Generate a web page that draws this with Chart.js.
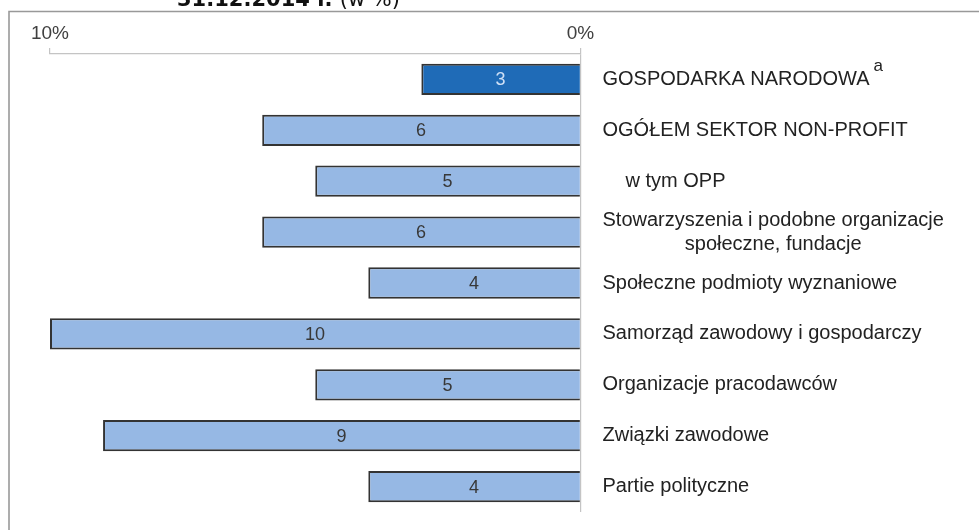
<!DOCTYPE html>
<html>
<head>
<meta charset="utf-8">
<script src="https://cdn.jsdelivr.net/npm/chart.js@4.4.1/dist/chart.umd.min.js"></script>
<style>
  html, body { margin: 0; padding: 0; background: #ffffff; }
  #c { display: block; }
</style>
</head>
<body>
<canvas id="c" width="979" height="530"></canvas>
<script>
// ---- DATA ----
const titleBold = '31.12.2014 r.';
const titleRest = '(w %)';
const categories = [
  'GOSPODARKA NARODOWA',
  'OGÓŁEM SEKTOR NON-PROFIT',
  'w tym OPP',
  ['Stowarzyszenia i podobne organizacje', 'społeczne, fundacje'],
  'Społeczne podmioty wyznaniowe',
  'Samorząd zawodowy i gospodarczy',
  'Organizacje pracodawców',
  'Związki zawodowe',
  'Partie polityczne'
];
const values = [3, 6, 5, 6, 4, 10, 5, 9, 4];
const footnotes = ['a', '', '', '', '', '', '', '', ''];
const tickValues = [10, 0];
const tickSuffix = '%';

// ---- STYLE ----
const DARK = '#1f6bb7';
const LIGHT = '#96b8e4';
const BORDER = '#333333';
const AXIS = '#c4c4c4';
const FONT = '"Liberation Sans", Arial, sans-serif';

const framePlugin = {
  id: 'frame',
  beforeDraw(chart) {
    const ctx = chart.ctx;
    ctx.save();
    ctx.fillStyle = '#ffffff';
    ctx.fillRect(0, 0, chart.width, chart.height);
    ctx.strokeStyle = '#999999';
    ctx.lineWidth = 1.6;
    ctx.beginPath();
    ctx.moveTo(9, chart.height);
    ctx.lineTo(9, 11.5);
    ctx.lineTo(chart.width, 11.5);
    ctx.stroke();
    // title (partly cut at top)
    ctx.fillStyle = '#111111';
    ctx.textBaseline = 'alphabetic';
    ctx.textAlign = 'left';
    ctx.font = 'bold 21px "DejaVu Sans", sans-serif';
    const x0 = 177;
    ctx.fillText(titleBold, x0, 6);
    const w = ctx.measureText(titleBold + ' ').width;
    ctx.font = '21px "DejaVu Sans", sans-serif';
    ctx.fillText(titleRest, x0 + w, 6);
    ctx.restore();
  }
};

const labelsPlugin = {
  id: 'catLabels',
  afterDatasetsDraw(chart, args, opts) {
    const ctx = chart.ctx;
    const meta = chart.getDatasetMeta(0);
    const yScale = chart.scales.y;
    const xStart = chart.chartArea.right + 22;
    ctx.save();
    // value labels inside bars
    ctx.font = '18px ' + FONT;
    ctx.textAlign = 'center';
    ctx.textBaseline = 'middle';
    meta.data.forEach((bar, i) => {
      const cx = (bar.x + bar.base) / 2;
      ctx.fillStyle = i === 0 ? '#cfe0f6' : '#383838';
      ctx.fillText(String(values[i]), cx, bar.y + 1);
    });
    // category labels on the right
    ctx.textAlign = 'left';
    ctx.fillStyle = '#222222';
    categories.forEach((lab, i) => {
      const cy = yScale.getPixelForValue(i);
      const lines = Array.isArray(lab) ? lab : [lab];
      ctx.font = '20px ' + FONT;
      const widths = lines.map(l => ctx.measureText(l).width);
      const maxW = Math.max(...widths);
      const lh = 24;
      const indent = (opts.indent && opts.indent[i]) || 0;
      lines.forEach((l, k) => {
        const y = cy + (k - (lines.length - 1) / 2) * lh;
        const x = xStart + indent + (maxW - widths[k]) / 2;
        ctx.fillText(l, x, y);
      });
      if (footnotes[i]) {
        const endX = xStart + indent + maxW;
        ctx.font = '17px ' + FONT;
        ctx.fillText(footnotes[i], endX + 4, cy - 13);
      }
    });
    ctx.restore();
  }
};

new Chart(document.getElementById('c'), {
  type: 'bar',
  data: {
    labels: categories,
    datasets: [{
      data: values,
      backgroundColor: ctx => ctx.dataIndex === 0 ? DARK : LIGHT,
      borderColor: BORDER,
      borderWidth: 2,
      barPercentage: 0.615,
      categoryPercentage: 1.0
    }]
  },
  options: {
    indexAxis: 'y',
    responsive: false,
    animation: false,
    devicePixelRatio: 1,
    layout: { padding: { left: 50, right: 398.5, top: 0, bottom: 18 } },
    plugins: {
      legend: { display: false },
      tooltip: { enabled: false },
      title: { display: false },
      catLabels: { indent: { 2: 23 } }
    },
    scales: {
      x: {
        type: 'linear',
        position: 'top',
        reverse: true,
        min: 0,
        max: 10,
        afterBuildTicks: s => { s.ticks = tickValues.map(v => ({ value: v })); },
        afterFit: s => { s.height = 54; },
        ticks: {
          callback: v => v + tickSuffix,
          font: { family: FONT, size: 19 },
          color: '#404040',
          padding: 3,
          maxRotation: 0,
          autoSkip: false
        },
        grid: {
          color: c => (c.tick && c.tick.value === 0) ? AXIS : 'rgba(0,0,0,0)',
          tickColor: AXIS,
          tickLength: 6,
          lineWidth: 1.2
        },
        border: { color: AXIS, width: 1.2 }
      },
      y: {
        type: 'category',
        display: false
      }
    }
  },
  plugins: [framePlugin, labelsPlugin]
});
</script>
</body>
</html>
